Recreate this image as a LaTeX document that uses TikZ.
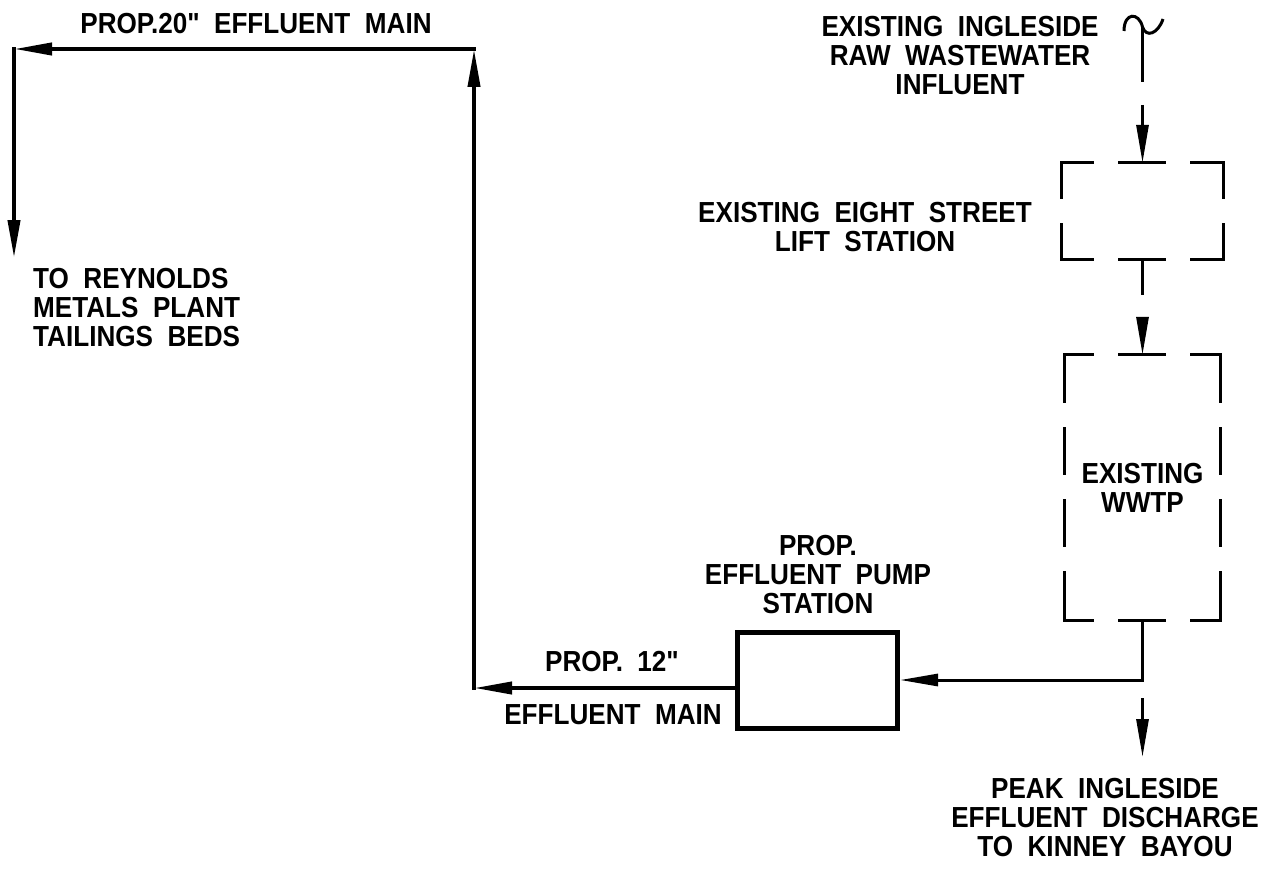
\documentclass[tikz,border=0pt]{standalone}
\usepackage{fontspec}
\setmainfont[Ligatures=TeXOff,FakeStretch=0.9,WordSpace=2,BoldFont={Liberation Sans Bold}]{Liberation Sans}
\usetikzlibrary{arrows.meta, positioning, calc}
\tikzset{
  station/.style={rectangle, inner sep=0pt, align=center},
  pumpbox/.style={rectangle, draw, line width=5pt, minimum width=160pt,
                  minimum height=96pt},
  note/.style={align=center, inner sep=0pt, font=\fontsize{29}{29}\selectfont\bfseries},
  main/.style={line width=4pt, line cap=rect},
  flow/.style={line width=3pt},
  arrow/.style={-{Triangle[length=38pt,width=12pt]}},
  hidden/.style={line width=3pt, line cap=rect, dash pattern=on 45pt off 27pt}
}
% dashed outline of an existing structure: node, phase along x, phase along y
\newcommand{\cadbox}[3]{%
  \draw[hidden, dash phase=#2pt] (#1.north west) -- (#1.north east)
                                 (#1.south west) -- (#1.south east);
  \draw[hidden, dash phase=#3pt] (#1.north west) -- (#1.south west)
                                 (#1.north east) -- (#1.south east);
}

\begin{document}
\begin{tikzpicture}[x=1pt, y=-1pt]
    \useasboundingbox (0,0) rectangle (1268,872);

    % existing plant on the right
    \node[station, minimum width=161pt, minimum height=96pt] (lift) at (1142.5,211) {};
    \node[station, note, minimum width=155pt, minimum height=265pt] (wwtp) at (1142.5,487.5) {EXISTING\\WWTP};
    \node[pumpbox] (pump) at (817.5,680) {};
    \cadbox{lift}{14}{10.5}
    \cadbox{wwtp}{17}{70}

    % labels
    \node[note] (main20) at (256,24) {PROP.20" EFFLUENT MAIN};
    \node[note, align=left, anchor=west] (reynolds) at (33,308) {TO REYNOLDS\\METALS PLANT\\TAILINGS BEDS};
    \node[note] (influent) at (960,56) {EXISTING INGLESIDE\\RAW WASTEWATER\\INFLUENT};
    \node[note] (liftlbl) at (865,227) {EXISTING EIGHT STREET\\LIFT STATION};
    \node[note] (pumplbl) at (818,575) {PROP.\\EFFLUENT PUMP\\STATION};
    \node[note] (main12a) at (612,662) {PROP. 12"};
    \node[note] (main12b) at (613,715) {EFFLUENT MAIN};
    \node[note] (bayou) at (1105,818) {PEAK INGLESIDE\\EFFLUENT DISCHARGE\\TO KINNEY BAYOU};

    % raw wastewater path
    \coordinate (infl) at (1142.5,27);
    \coordinate (inflbrk) at (1142.5,82);
    \coordinate (inflres) at (1142.5,105);
    \coordinate (liftbrk) at (1142.5,295);
    \coordinate (wwtpres) at (1142.5,317);
    \coordinate (junc) at (1142.5,680);
    \coordinate (disres) at (1142.5,698);
    \coordinate (disend) at (1142.5,757);
    \draw[flow] (1124,31) .. controls (1124,12) and (1139,12) .. (infl)
          .. controls (1146,38) and (1158,34) .. (1163,19);
    \draw[flow] (infl) -- (inflbrk);
    \draw[flow, arrow] (inflres) -- (lift.north);
    \draw[flow] (lift.south) -- (liftbrk);
    \draw[flow, arrow] (wwtpres) -- (wwtp.north);
    \draw[flow, arrow] (wwtp.south) -- (junc) -- (pump.east);
    \draw[flow, arrow] (disres) -- (disend);

    % effluent main
    \coordinate (bend12) at (474,688);
    \coordinate (bend20) at (474,49);
    \coordinate (corner20) at (14,49);
    \coordinate (reynend) at (14,258);
    \draw[main, arrow] (pump.west |- bend12) -- (bend12);
    \draw[main, arrow] (bend12) -- (bend20);
    \draw[main, arrow] (bend20) -- (corner20);
    \draw[main, arrow] (corner20) -- (reynend);
\end{tikzpicture}
\end{document}
